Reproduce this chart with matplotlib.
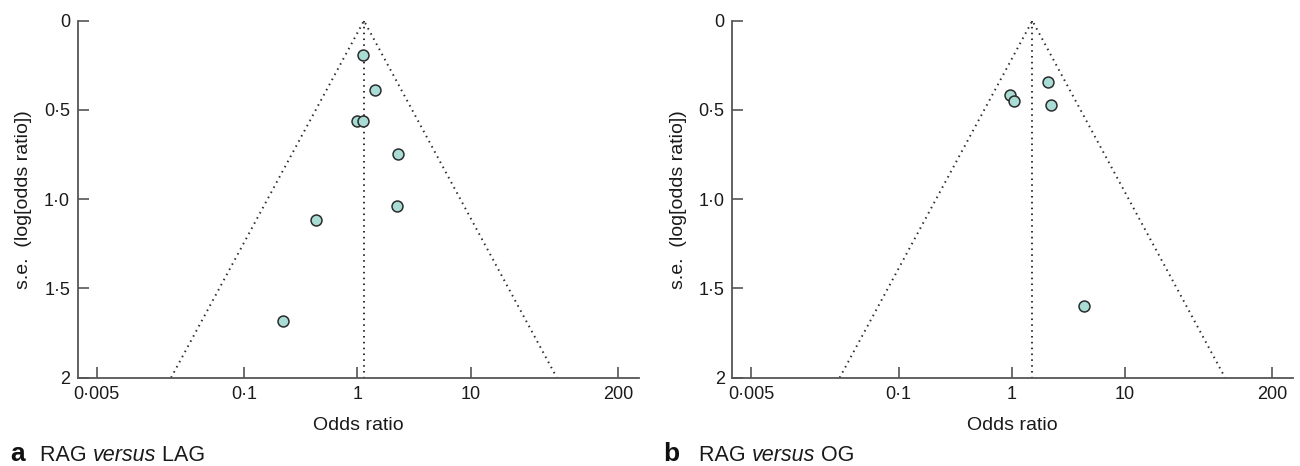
import numpy as np
import matplotlib
matplotlib.use("Agg")
from matplotlib import pyplot as plt
from matplotlib.ticker import FixedLocator, FixedFormatter, NullLocator

plt.rcParams["font.family"] = ["Liberation Sans", "DejaVu Sans"]

# panel a: RAG versus LAG
or_a = [1.11, 1.43, 0.98, 1.12, 2.27, 2.21, 0.43, 0.22]
se_a = [0.19, 0.39, 0.56, 0.56, 0.745, 1.04, 1.117, 1.68]
pooled_a = 1.14

# panel b: RAG versus OG
or_b = [2.07, 0.97, 1.05, 2.20, 4.34]
se_b = [0.345, 0.418, 0.452, 0.47, 1.598]
pooled_b = 1.52

x_ticks = [0.005, 0.1, 1, 10, 200]
x_tick_labels = ["0·005", "0·1", "1", "10", "200"]
y_ticks = [0, 0.5, 1.0, 1.5, 2]
y_tick_labels = ["0", "0·5", "1·0", "1·5", "2"]

panels = [
    ("a", "RAG ", "versus", " LAG", or_a, se_a, pooled_a),
    ("b", "RAG ", "versus", " OG", or_b, se_b, pooled_b),
]

fig = plt.figure(figsize=(13, 4.66), dpi=100)
axes_pos = [[0.0598, 0.1895, 0.4317, 0.766], [0.5633, 0.1895, 0.4313, 0.766]]
caption_x = [(0.0077, 0.031), (0.510, 0.538)]

spine_col = "#555555"
dot_col = "#2e2e2e"

for i, (letter, c1, c2, c3, ors, ses, pooled) in enumerate(panels):
    ax = fig.add_axes(axes_pos[i])
    ax.set_xscale("log")
    ax.set_xlim(10 ** -2.469, 10 ** 2.484)
    ax.set_ylim(2, 0)

    # funnel (95% limits) and pooled estimate
    se_max = 2.0
    lo = pooled * np.exp(-1.96 * se_max)
    hi = pooled * np.exp(1.96 * se_max)
    ls = (0, (0.8, 2.2))
    ax.plot([lo, pooled, hi], [se_max, 0, se_max], color=dot_col, lw=1.4,
            linestyle=ls, zorder=2)
    ax.plot([pooled, pooled], [0, se_max], color=dot_col, lw=1.4,
            linestyle=ls, zorder=2)

    ax.scatter(ors, ses, s=62, facecolor="#a8dcd5", edgecolor="#2b2b2b",
               linewidth=1.1, zorder=3, clip_on=False)

    for side in ["top", "right"]:
        ax.spines[side].set_visible(False)
    for side in ["left", "bottom"]:
        ax.spines[side].set_color(spine_col)
        ax.spines[side].set_linewidth(1.3)

    ax.xaxis.set_major_locator(FixedLocator(x_ticks))
    ax.xaxis.set_major_formatter(FixedFormatter(x_tick_labels))
    ax.xaxis.set_minor_locator(NullLocator())
    ax.yaxis.set_major_locator(FixedLocator(y_ticks))
    ax.yaxis.set_major_formatter(FixedFormatter(y_tick_labels))
    ax.tick_params(direction="in", length=7.7, width=1.2, color=spine_col,
                   labelsize=13, labelcolor="#1a1a1a")
    ax.tick_params(axis="x", pad=6)
    ax.tick_params(axis="y", pad=5.5)

    ax.set_xlabel("Odds ratio", fontsize=14, color="#1a1a1a", labelpad=10)
    ax.set_ylabel("s.e.  (log[odds ratio])", fontsize=14, color="#1a1a1a")
    ax.yaxis.set_label_coords(-0.096, 0.5)
    ax.yaxis.label.set_verticalalignment("center")

    lx, tx = caption_x[i]
    fig.text(lx, 0.011, letter, fontsize=19, fontweight="bold", color="#111111")
    t = fig.text(tx, 0.011, c1, fontsize=15.5, color="#1a1a1a")
    fig.canvas.draw()
    r = fig.canvas.get_renderer()
    bb = t.get_window_extent(r)
    x2 = bb.x1 / fig.bbox.width
    t2 = fig.text(x2, 0.011, c2, fontsize=15.5, style="italic", color="#1a1a1a")
    bb2 = t2.get_window_extent(r)
    x3 = bb2.x1 / fig.bbox.width
    fig.text(x3, 0.011, c3, fontsize=15.5, color="#1a1a1a")

fig.savefig("out.png", dpi=100)
